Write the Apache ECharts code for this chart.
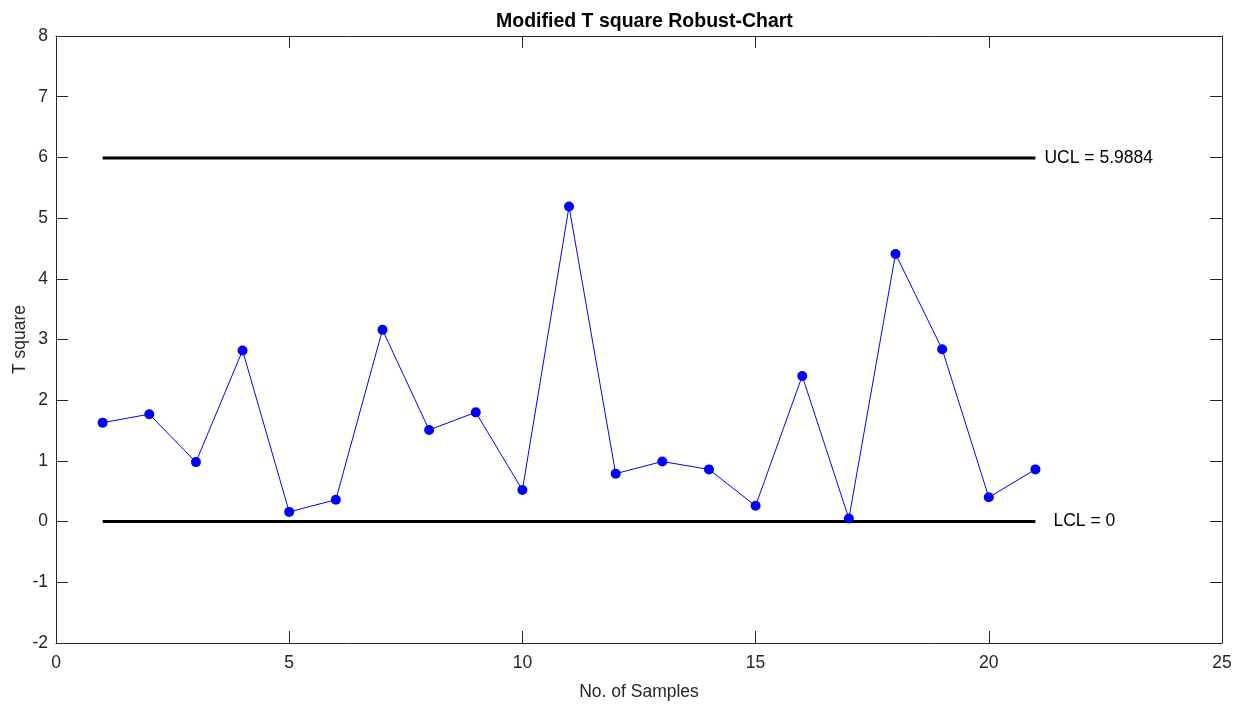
<!DOCTYPE html>
<html>
<head>
<meta charset="utf-8">
<script src="https://cdn.jsdelivr.net/npm/echarts@6/dist/echarts.min.js"></script>
<style>html,body{margin:0;padding:0;background:#fff;}#c{width:1244px;height:708px;}</style>
</head>
<body>
<div id="c"></div>
<script>
const samples = [1,2,3,4,5,6,7,8,9,10,11,12,13,14,15,16,17,18,19,20,21];
const tSquare = [1.63,1.77,0.98,2.82,0.16,0.36,3.16,1.51,1.80,0.52,5.19,0.79,0.99,0.86,0.26,2.40,0.05,4.41,2.84,0.40,0.86];
const uclValue = 5.9884;
const lclValue = 0;
const limitRange = [1, 21];
const uclLabel = 'UCL = 5.9884';
const lclLabel = 'LCL = 0';

const font = 'Liberation Sans, Arial, sans-serif';
const axisColor = '#262626';
const chart = echarts.init(document.getElementById('c'));

function boxAxis(extra) {
  return Object.assign({
    type: 'value',
    axisLine: { show: true, onZero: false, lineStyle: { color: axisColor, width: 1 } },
    axisTick: { show: true, inside: true, length: 12, lineStyle: { color: axisColor } },
    splitLine: { show: false },
  }, extra);
}

chart.setOption({
  animation: false,
  backgroundColor: '#fff',
  title: {
    text: 'Modified T square Robust-Chart',
    left: 491, top: 7,
    textStyle: { fontFamily: font, fontSize: 19.5, fontWeight: 'bold', color: '#000' }
  },
  grid: { left: 56, right: 22, top: 36, bottom: 65, containLabel: false, outerBoundsMode: 'none' },
  xAxis: [
    boxAxis({
      min: 0, max: 25, interval: 5, position: 'bottom',
      name: 'No. of Samples', nameLocation: 'middle', nameGap: 40, nameMoveOverlap: false,
      nameTextStyle: { fontFamily: font, fontSize: 17.5, color: axisColor },
      axisLabel: { show: true, margin: 11, fontFamily: font, fontSize: 17.5, color: axisColor }
    }),
    boxAxis({
      min: 0, max: 25, interval: 5, position: 'top',
      axisLabel: { show: false }
    })
  ],
  yAxis: [
    boxAxis({
      min: -2, max: 8, interval: 1, position: 'left',
      name: 'T square', nameLocation: 'middle', nameGap: 27, nameRotate: 90, nameMoveOverlap: false,
      nameTextStyle: { fontFamily: font, fontSize: 17.5, color: axisColor },
      axisLabel: { show: true, margin: 8, fontFamily: font, fontSize: 17.5, color: axisColor }
    }),
    boxAxis({
      min: -2, max: 8, interval: 1, position: 'right',
      axisLabel: { show: false }
    })
  ],
  series: [
    {
      type: 'line', name: 'UCL', z: 2,
      data: limitRange.map(x => [x, uclValue]),
      symbol: 'none',
      lineStyle: { color: '#000', width: 3 },
      endLabel: { show: true, formatter: uclLabel, distance: 9, fontFamily: font, fontSize: 17.5, color: '#000' }
    },
    {
      type: 'line', name: 'LCL', z: 2,
      data: limitRange.map(x => [x, lclValue]),
      symbol: 'none',
      lineStyle: { color: '#000', width: 3 },
      endLabel: { show: true, formatter: lclLabel, distance: 18, fontFamily: font, fontSize: 17.5, color: '#000' }
    },
    {
      type: 'line', name: 'T square', z: 5,
      data: samples.map((s, i) => [s, tSquare[i]]),
      symbol: 'circle', symbolSize: 10,
      lineStyle: { color: '#0000ff', width: 1 },
      itemStyle: { color: '#0000ff' }
    }
  ]
});
</script>
</body>
</html>
